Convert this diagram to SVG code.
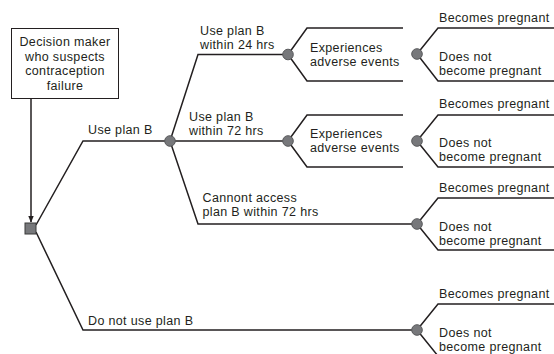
<svg xmlns="http://www.w3.org/2000/svg" width="554" height="354" viewBox="0 0 554 354">
<style>
text{font-family:"Liberation Sans",Arial,sans-serif;font-size:12.5px;letter-spacing:0.35px;fill:#231f20}
.c{text-anchor:middle}
.ln{fill:none;stroke:#231f20;stroke-width:1.5;stroke-linejoin:miter}
.chance{fill:#77787b;stroke:#58595b;stroke-width:1}
.dec{fill:#77787b;stroke:#3a3a3a;stroke-width:1}
.box{fill:#fff;stroke:#231f20;stroke-width:1}
</style>
<defs>
<marker id="arr" viewBox="0 0 10 10" refX="9" refY="5" markerWidth="7" markerHeight="7" orient="auto" markerUnits="userSpaceOnUse">
<path d="M0,1 L10,5 L0,9 Z" fill="#231f20"/>
</marker>
</defs>
<rect width="554" height="354" fill="#fff"/>
<g id="connectors">
<line class="ln" x1="31" y1="99" x2="31" y2="222" stroke-width="1" marker-end="url(#arr)"/>
<polyline class="ln" points="36,225 83,141 170,141"/>
<polyline class="ln" points="36,232 83,330 417,330"/>
<polyline class="ln" points="170,141 198,54.5 288,54.5"/>
<line class="ln" x1="170" y1="141" x2="288" y2="141"/>
<polyline class="ln" points="170,141 198,224 417,224"/>
<polyline class="ln" points="288,54.5 307,28 403,28"/>
<polyline class="ln" points="288,54.5 307,81 403,81"/>
<polyline class="ln" points="288,141 307,115 403,115"/>
<polyline class="ln" points="288,141 307,167 403,167"/>
<polyline class="ln" points="417,54 438,28 554,28"/>
<polyline class="ln" points="417,54 438,81 554,81"/>
<polyline class="ln" points="417,141 438,115 554,115"/>
<polyline class="ln" points="417,141 438,167 554,167"/>
<polyline class="ln" points="417,224 438,198 554,198"/>
<polyline class="ln" points="417,224 438,250 554,250"/>
<polyline class="ln" points="417,330 438,304 554,304"/>
<polyline class="ln" points="417,330 438,356 554,356"/>
</g>
<g id="decision-maker">
<rect class="box" x="11.5" y="28.5" width="107" height="70"/>
<text class="c" x="65" y="46">Decision maker</text>
<text class="c" x="65" y="60.5">who suspects</text>
<text class="c" x="65" y="75">contraception</text>
<text class="c" x="65" y="89.5">failure</text>
</g>
<g id="decision-node">
<rect class="dec" x="25" y="223" width="11" height="11"/>
</g>
<g id="label-use-plan-b"><text x="88" y="134">Use plan B</text></g>
<g id="label-do-not-use"><text x="88" y="325">Do not use plan B</text></g>
<g id="chance-plan-b">
<circle class="chance" cx="170" cy="141" r="5.3"/>
</g>
<g id="label-24"><text x="200" y="35">Use plan B</text><text x="200" y="49">within 24 hrs</text></g>
<g id="label-72"><text x="189" y="120.5">Use plan B</text><text x="189" y="134.5">within 72 hrs</text></g>
<g id="label-cannot"><text x="202.5" y="202">Cannont access</text><text x="202.5" y="216">plan B within 72 hrs</text></g>
<g id="chance-adverse-24">
<circle class="chance" cx="288" cy="54.5" r="5.3"/>
<text x="310" y="52">Experiences</text><text x="310" y="66">adverse events</text>
</g>
<g id="chance-adverse-72">
<circle class="chance" cx="288" cy="141" r="5.3"/>
<text x="310" y="138">Experiences</text><text x="310" y="152">adverse events</text>
</g>
<g id="outcome-1">
<circle class="chance" cx="417" cy="54" r="5.3"/>
<text x="439" y="22">Becomes pregnant</text>
<text x="439" y="60.5">Does not</text><text x="439" y="74.5">become pregnant</text>
</g>
<g id="outcome-2">
<circle class="chance" cx="417" cy="141" r="5.3"/>
<text x="439" y="107.5">Becomes pregnant</text>
<text x="439" y="146.5">Does not</text><text x="439" y="160.5">become pregnant</text>
</g>
<g id="outcome-3">
<circle class="chance" cx="417" cy="224" r="5.3"/>
<text x="439" y="192">Becomes pregnant</text>
<text x="439" y="230.5">Does not</text><text x="439" y="244.5">become pregnant</text>
</g>
<g id="outcome-4">
<circle class="chance" cx="417" cy="330" r="5.3"/>
<text x="439" y="298">Becomes pregnant</text>
<text x="439" y="336.5">Does not</text><text x="439" y="350.5">become pregnant</text>
</g>
</svg>
